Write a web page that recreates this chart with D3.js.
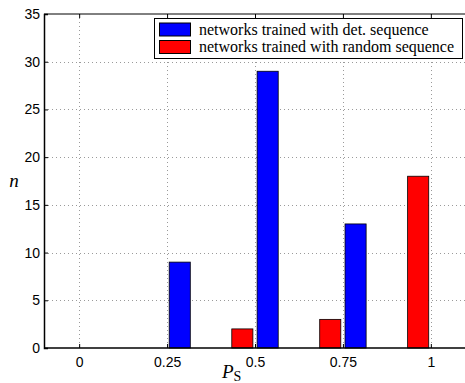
<!DOCTYPE html>
<html>
<head>
<meta charset="utf-8">
<script src="https://cdn.jsdelivr.net/npm/d3@7"></script>
<style>
  body { margin: 0; background: #fff; }
  svg { display: block; }
</style>
</head>
<body>
<div id="chart"></div>
<script>
// data
var positions = [0, 0.25, 0.5, 0.75, 1];
var detCounts = [0, 9, 29, 13, 0];
var randomCounts = [0, 0, 2, 3, 18];
var seriesNames = ["networks trained with det. sequence", "networks trained with random sequence"];
var xTicks = [0, 0.25, 0.5, 0.75, 1];
var yTicks = [0, 5, 10, 15, 20, 25, 30, 35];

var width = 465, height = 383;
var margin = {left: 44, top: 14, right: -1, bottom: 35};
var blue = "#0000ff", red = "#ff0000";
var tickFont = "'Liberation Sans', Arial, sans-serif";
var serif = "'Liberation Serif', 'Times New Roman', serif";

var svg = d3.select('#chart').append('svg')
    .attr('width', width)
    .attr('height', height);

var x = d3.scaleLinear().domain([-0.1, 1.1]).range([margin.left, width - margin.right]);
var y = d3.scaleLinear().domain([0, 35]).range([height - margin.bottom, margin.top]);

var barW = 0.06, gap = 0.006;

// grid
var grid = svg.append('g')
    .attr('stroke', '#9a9a9a')
    .attr('stroke-width', 1)
    .attr('stroke-dasharray', '1,3');
grid.selectAll('.gy')
    .data(yTicks.slice(1, -1))
    .enter().append('line')
    .attr('x1', x(-0.1)).attr('x2', width)
    .attr('y1', function(d){ return Math.round(y(d)) + 0.5; })
    .attr('y2', function(d){ return Math.round(y(d)) + 0.5; });
grid.selectAll('.gx')
    .data(xTicks)
    .enter().append('line')
    .attr('x1', function(d){ return Math.round(x(d)) + 0.5; })
    .attr('x2', function(d){ return Math.round(x(d)) + 0.5; })
    .attr('y1', y(35)).attr('y2', y(0));

// bars
var bars = svg.append('g');
bars.selectAll('.red')
    .data(positions)
    .enter().append('rect')
    .attr('x', function(d){ return x(d - gap - barW); })
    .attr('width', function(){ return x(barW) - x(0); })
    .attr('y', function(d, i){ return y(randomCounts[i]); })
    .attr('height', function(d, i){ return y(0) - y(randomCounts[i]); })
    .attr('fill', red)
    .attr('stroke', '#000')
    .attr('stroke-width', 0.8);
bars.selectAll('.blue')
    .data(positions)
    .enter().append('rect')
    .attr('x', function(d){ return x(d + gap); })
    .attr('width', function(){ return x(barW) - x(0); })
    .attr('y', function(d, i){ return y(detCounts[i]); })
    .attr('height', function(d, i){ return y(0) - y(detCounts[i]); })
    .attr('fill', blue)
    .attr('stroke', '#000')
    .attr('stroke-width', 0.8);

// axes
var xAxis = svg.append('g')
    .attr('transform', 'translate(0,' + y(0) + ')')
    .call(d3.axisBottom(x).tickValues(xTicks).tickSize(-4).tickPadding(9)
        .tickFormat(function(d){ return d3.format('')(d); }));
var xTop = svg.append('g')
    .attr('transform', 'translate(0,' + y(35) + ')')
    .call(d3.axisTop(x).tickValues(xTicks).tickSize(-4).tickFormat(''));
var yAxis = svg.append('g')
    .attr('transform', 'translate(' + x(-0.1) + ',0)')
    .call(d3.axisLeft(y).tickValues(yTicks).tickSize(-4).tickPadding(4));

[xAxis, xTop, yAxis].forEach(function(a){
    a.select('.domain').attr('stroke', '#000').attr('stroke-width', 1.5);
    a.selectAll('.tick line').attr('stroke', '#000');
    a.selectAll('text')
        .attr('font-family', tickFont)
        .attr('font-size', 14)
        .attr('fill', '#000');
});
xAxis.select('.domain').attr('d', 'M' + x(-0.1) + ',0H' + width);
xTop.select('.domain').attr('d', 'M' + x(-0.1) + ',0H' + width).attr('stroke-width', 1);

// axis labels
svg.append('text')
    .attr('x', 14).attr('y', 187)
    .attr('text-anchor', 'middle')
    .attr('font-family', serif)
    .attr('font-style', 'italic')
    .attr('font-size', 19)
    .text('n');
var xl = svg.append('text')
    .attr('x', 222).attr('y', 378)
    .attr('font-family', serif)
    .attr('font-size', 19);
xl.append('tspan').attr('font-style', 'italic').text('P');
xl.append('tspan').attr('font-size', 14).attr('dy', 3).text('S');

// legend
var legend = svg.append('g');
legend.append('rect')
    .attr('x', 154.5).attr('y', 18.5)
    .attr('width', 308).attr('height', 40)
    .attr('fill', '#fff')
    .attr('stroke', '#000');
var items = legend.selectAll('.item')
    .data(seriesNames)
    .enter().append('g')
    .attr('transform', function(d, i){ return 'translate(0,' + (i * 17.5) + ')'; });
items.append('rect')
    .attr('x', 159.5).attr('y', 23)
    .attr('width', 31).attr('height', 13)
    .attr('fill', function(d, i){ return i === 0 ? blue : red; })
    .attr('stroke', '#000');
items.append('text')
    .attr('x', 199).attr('y', 34.5)
    .attr('font-family', serif)
    .attr('font-size', 16)
    .attr('fill', '#000')
    .text(function(d){ return d; });
</script>
</body>
</html>
